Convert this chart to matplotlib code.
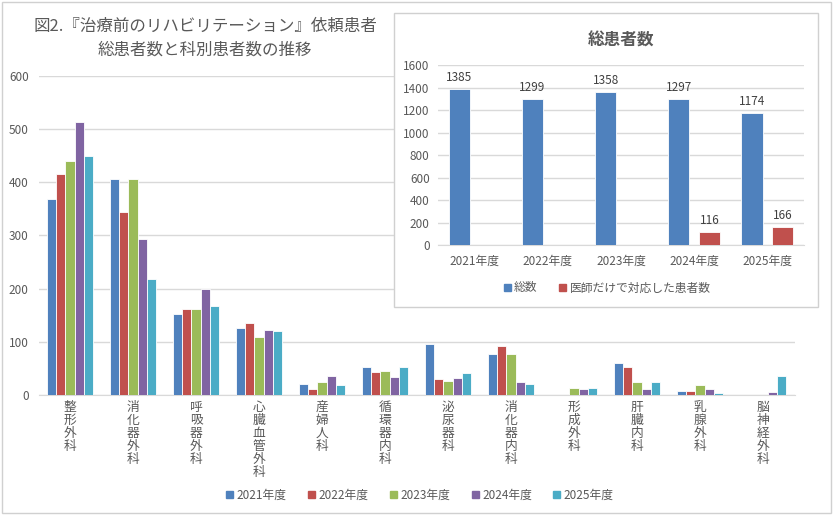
import matplotlib
matplotlib.use("Agg")
import matplotlib.pyplot as plt
from matplotlib.patches import Rectangle, Patch
import numpy as np

plt.rcParams['font.family'] = ['Noto Sans CJK JP', 'DejaVu Sans']

# --- data ---
departments = ["整形外科", "消化器外科", "呼吸器外科", "心臓血管外科", "産婦人科", "循環器内科",
               "泌尿器科", "消化器内科", "形成外科", "肝臓内科", "乳腺外科", "脳神経外科"]
years = ["2021年度", "2022年度", "2023年度", "2024年度", "2025年度"]
y2021 = [368, 407, 153, 126, 21, 53, 95, 77, 0, 61, 7, 0]
y2022 = [415, 344, 161, 136, 11, 43, 31, 93, 0, 53, 7, 0]
y2023 = [441, 406, 161, 109, 25, 45, 27, 77, 14, 24, 18, 0]
y2024 = [513, 293, 199, 123, 35, 34, 32, 25, 12, 12, 11, 5]
y2025 = [450, 218, 167, 120, 18, 53, 41, 20, 14, 24, 4, 36]

total_patients = [1385, 1299, 1358, 1297, 1174]
doctor_only = [0, 0, 0, 116, 166]

colors = ['#4F81BD', '#C0504D', '#9BBB59', '#8064A2', '#4BACC6']
grid_c = '#D9D9D9'
text_c = '#595959'

fig = plt.figure(figsize=(8.34, 5.15), dpi=100)

# main chart
ax = fig.add_axes([38.5/834, 1-395/515, 756/834, 319/515])
x = np.arange(len(departments))
series = [y2021, y2022, y2023, y2024, y2025]
slot = 0.143
for i, vals in enumerate(series):
    ax.bar(x + (i - 2) * slot, vals, width=slot, color=colors[i],
           edgecolor='white', linewidth=0.6, label=years[i], zorder=3)
ax.set_xlim(-0.5, len(departments) - 0.5)
ax.set_ylim(0, 600)
ax.set_yticks(range(0, 601, 100))
ax.yaxis.grid(True, color=grid_c, linewidth=1, zorder=0)
ax.set_axisbelow(True)
for s in ['top', 'right', 'left']:
    ax.spines[s].set_visible(False)
ax.spines['bottom'].set_color(grid_c)
ax.tick_params(axis='both', length=0, colors=text_c, labelsize=8.5)
ax.tick_params(axis='y', pad=7)
ax.set_xticks(x)
ax.set_xticklabels(["\n".join(d) for d in departments], linespacing=1.0,
                   fontsize=9.2, color=text_c, va='top')
ax.tick_params(axis='x', pad=4)

handles = [Patch(color=c) for c in colors]
fig.legend(handles, years, loc='center', bbox_to_anchor=(420/834, 1-495/515),
           ncol=5, frameon=False, fontsize=8.5, handlelength=0.6, handleheight=0.6,
           handletextpad=0.3, columnspacing=1.8, labelcolor=text_c)

fig.text(205/834, 1-38.5/515, "図2.『治療前のリハビリテーション』依頼患者\n総患者数と科別患者数の推移",
         ha='center', va='center', fontsize=11.9, color=text_c, linespacing=1.5)

# inset box
box = Rectangle((394/834, 1-307/515), 424/834, 294/515, transform=fig.transFigure,
                facecolor='white', edgecolor='#D0D0D0', linewidth=1, zorder=1)
fig.add_artist(box)

ax2 = fig.add_axes([438/834, 1-245.3/515, 366/834, 180.3/515], zorder=2)
ax2.patch.set_alpha(0)
xi = np.arange(len(years))
b1 = ax2.bar(xi - 0.21, total_patients, width=0.29, color=colors[0], edgecolor='white',
             linewidth=0.6, zorder=3)
b2 = ax2.bar(xi + 0.21, doctor_only, width=0.29, color=colors[1], edgecolor='white',
             linewidth=0.6, zorder=3)
for rect, v in zip(b1, total_patients):
    ax2.text(rect.get_x() + rect.get_width()/2, v + 45, str(v), ha='center', va='bottom',
             fontsize=8.5, color='#404040')
for rect, v in zip(b2, doctor_only):
    if v:
        ax2.text(rect.get_x() + rect.get_width()/2, v + 45, str(v), ha='center', va='bottom',
                 fontsize=8.5, color='#404040')
ax2.set_xlim(-0.5, len(years) - 0.5)
ax2.set_ylim(0, 1600)
ax2.set_yticks(range(0, 1601, 200))
ax2.yaxis.grid(True, color=grid_c, linewidth=1, zorder=0)
ax2.set_axisbelow(True)
for s in ['top', 'right', 'left']:
    ax2.spines[s].set_visible(False)
ax2.spines['bottom'].set_color(grid_c)
ax2.tick_params(axis='both', length=0, colors=text_c, labelsize=8.5)
ax2.tick_params(axis='y', pad=6)
ax2.tick_params(axis='x', pad=7)
ax2.set_xticks(xi)
ax2.set_xticklabels(years)
ax2.set_title("総患者数", fontsize=12, fontweight='bold', color=text_c, pad=14)

fig.legend([Patch(color=colors[0]), Patch(color=colors[1])], ["総数", "医師だけで対応した患者数"],
           loc='center', bbox_to_anchor=(607/834, 1-288/515), ncol=2, frameon=False,
           fontsize=8.5, handlelength=0.6, handleheight=0.6, handletextpad=0.3,
           columnspacing=1.8, labelcolor=text_c).set_zorder(3)

# outer frame
fig.add_artist(Rectangle((0.002, 0.004), 0.995, 0.993, transform=fig.transFigure,
                         fill=False, edgecolor='#D0D0D0', linewidth=1, zorder=0))

fig.savefig("out.png", dpi=100)
